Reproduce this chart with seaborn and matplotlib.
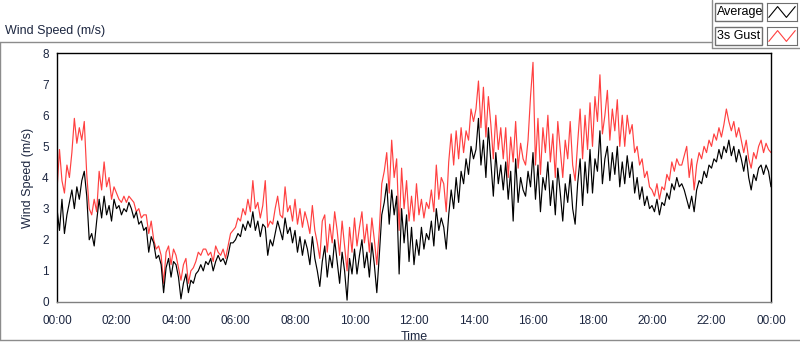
"""
Wind speed over one day: 1-min average vs 3 s gust (LabVIEW style chart)
"""

import numpy as np
import pandas as pd
import matplotlib.pyplot as plt
import seaborn as sns
from matplotlib.patches import Rectangle
from matplotlib.lines import Line2D

# 5-minute samples, one list per hour (m/s)
avg_00 = [3.0, 2.3, 3.3, 2.2, 2.8, 3.2, 3.6, 3.0, 3.7, 3.3, 3.9, 4.2]
avg_01 = [3.4, 2.0, 2.2, 1.8, 2.6, 3.3, 2.7, 3.4, 2.8, 3.1, 2.6, 3.3]
avg_02 = [3.0, 3.1, 2.8, 3.0, 2.9, 3.2, 3.0, 2.7, 2.9, 2.5, 2.6, 2.3]
avg_03 = [2.4, 1.6, 2.1, 1.9, 1.4, 1.5, 1.2, 0.3, 1.1, 1.4, 0.8, 1.3]
avg_04 = [1.2, 0.8, 0.1, 0.6, 0.9, 0.3, 0.7, 0.6, 0.9, 1.0, 1.2, 1.0]
avg_05 = [1.3, 1.2, 1.4, 1.0, 1.3, 1.5, 1.3, 1.4, 1.2, 1.5, 1.9, 1.9]
avg_06 = [2.0, 2.2, 2.1, 2.5, 2.3, 2.6, 2.4, 2.9, 2.3, 2.6, 2.1, 2.5]
avg_07 = [2.4, 1.5, 2.0, 1.8, 2.2, 2.6, 2.3, 2.0, 2.7, 2.2, 2.4, 1.9]
avg_08 = [2.3, 1.6, 2.1, 1.5, 2.0, 1.7, 1.2, 2.1, 1.4, 1.0, 0.5, 1.3]
avg_09 = [1.8, 0.8, 1.5, 1.1, 2.0, 1.3, 0.6, 1.6, 1.0, 0.06, 1.4, 0.9]
avg_10 = [1.7, 0.9, 1.5, 2.0, 1.1, 1.6, 0.8, 1.9, 1.2, 0.3, 1.5, 2.8]
avg_11 = [3.2, 3.8, 2.5, 3.6, 2.8, 3.4, 0.9, 3.0, 1.9, 2.8, 1.3, 2.4]
avg_12 = [1.2, 2.0, 1.5, 2.4, 1.7, 2.2, 2.0, 2.6, 1.8, 3.0, 2.3, 2.7]
avg_13 = [2.4, 1.7, 2.8, 3.6, 3.0, 4.0, 3.2, 4.2, 3.8, 4.6, 4.1, 5.0]
avg_14 = [4.6, 4.9, 5.9, 4.4, 5.2, 4.0, 5.6, 4.5, 3.4, 4.8, 3.8, 4.4]
avg_15 = [3.6, 4.5, 3.3, 4.2, 2.6, 4.6, 3.2, 4.0, 3.6, 3.4, 4.2, 3.7]
avg_16 = [4.8, 3.3, 4.4, 2.9, 4.0, 3.6, 4.5, 3.1, 3.9, 2.8, 4.3, 3.5]
avg_17 = [2.6, 3.8, 3.2, 4.1, 3.0, 2.5, 3.8, 4.6, 3.1, 4.5, 3.5, 4.9]
avg_18 = [3.5, 4.6, 4.2, 5.5, 3.8, 4.6, 5.0, 3.9, 4.8, 4.1, 5.0, 3.7]
avg_19 = [4.5, 3.8, 4.7, 4.0, 4.5, 3.5, 4.0, 3.3, 3.7, 3.1, 3.4, 3.0]
avg_20 = [3.1, 2.9, 3.3, 2.8, 3.2, 3.1, 3.5, 3.3, 3.8, 3.6, 4.0, 3.7]
avg_21 = [3.8, 3.6, 3.3, 3.0, 3.4, 2.9, 3.6, 3.9, 3.8, 4.2, 4.0, 4.4]
avg_22 = [4.3, 4.6, 4.5, 4.9, 4.6, 5.0, 4.8, 5.2, 4.7, 5.0, 4.5, 4.9]
avg_23 = [4.6, 4.2, 4.7, 4.0, 3.6, 4.1, 3.9, 4.3, 4.4, 4.1, 4.4, 4.2]
avg_end = [3.7]

gust_00 = [3.6, 4.9, 3.9, 3.5, 4.4, 4.0, 4.8, 5.9, 5.1, 5.6, 5.2, 5.8]
gust_01 = [4.1, 3.0, 2.8, 3.3, 2.9, 4.2, 3.6, 4.5, 3.7, 4.0, 3.3, 3.7]
gust_02 = [3.5, 3.3, 3.2, 3.4, 3.2, 3.4, 3.3, 3.2, 2.9, 3.0, 2.7, 2.8]
gust_03 = [2.8, 2.2, 2.6, 2.0, 1.7, 1.8, 1.5, 0.6, 1.6, 1.8, 1.2, 1.7]
gust_04 = [1.5, 1.1, 0.7, 1.2, 1.4, 0.6, 1.0, 1.1, 1.3, 1.6, 1.5, 1.7]
gust_05 = [1.7, 1.5, 1.6, 1.3, 1.8, 1.6, 1.5, 1.7, 1.4, 1.8, 2.2, 2.3]
gust_06 = [2.4, 2.7, 2.6, 3.0, 2.8, 3.3, 2.9, 3.9, 3.0, 3.2, 2.7, 3.1]
gust_07 = [3.9, 2.4, 2.6, 2.5, 3.0, 3.4, 2.8, 2.7, 3.7, 2.9, 3.1, 2.6]
gust_08 = [3.3, 2.5, 3.0, 2.4, 2.9, 2.6, 2.2, 3.1, 2.3, 1.9, 1.4, 2.6]
gust_09 = [2.8, 1.6, 2.5, 1.9, 2.9, 2.3, 1.5, 2.6, 1.8, 1.0, 2.4, 1.6]
gust_10 = [2.7, 1.8, 2.4, 2.9, 1.9, 2.5, 1.6, 2.7, 2.0, 1.2, 2.3, 3.8]
gust_11 = [4.2, 4.8, 3.5, 5.2, 4.0, 4.6, 2.3, 4.3, 3.0, 3.9, 2.6, 3.4]
gust_12 = [2.6, 3.8, 2.8, 3.3, 2.7, 3.2, 3.0, 3.6, 2.9, 4.4, 3.3, 4.0]
gust_13 = [3.8, 2.9, 4.5, 5.4, 4.4, 5.5, 4.6, 5.6, 4.8, 5.5, 5.2, 6.2]
gust_14 = [5.8, 6.2, 7.1, 5.6, 6.9, 5.3, 6.6, 5.7, 4.6, 6.0, 4.9, 5.6]
gust_15 = [4.6, 5.6, 4.0, 5.3, 4.5, 5.8, 4.3, 5.1, 4.6, 4.4, 5.2, 6.6]
gust_16 = [7.7, 4.4, 5.9, 4.1, 5.6, 4.8, 6.0, 4.5, 5.4, 4.0, 5.8, 4.9]
gust_17 = [4.0, 5.2, 4.6, 5.8, 4.4, 3.9, 5.1, 6.2, 4.6, 6.0, 4.9, 6.4]
gust_18 = [5.0, 6.6, 5.8, 7.3, 5.4, 6.0, 6.8, 5.2, 6.2, 5.5, 6.5, 5.0]
gust_19 = [6.0, 5.0, 6.0, 5.4, 5.7, 4.8, 5.0, 4.4, 4.6, 4.0, 4.2, 3.7]
gust_20 = [3.6, 3.4, 3.8, 3.3, 3.7, 3.6, 4.1, 3.9, 4.5, 4.2, 4.6, 4.4]
gust_21 = [4.4, 4.7, 5.0, 4.0, 4.6, 3.6, 4.4, 4.8, 4.6, 5.0, 4.8, 5.2]
gust_22 = [5.0, 5.4, 5.2, 5.6, 5.3, 5.7, 6.2, 5.8, 5.5, 5.8, 5.3, 5.6]
gust_23 = [5.2, 4.8, 5.2, 4.6, 4.3, 4.8, 4.6, 5.0, 5.2, 4.8, 5.1, 4.9]
gust_end = [4.8]

tick_hours = [0, 2, 4, 6, 8, 10, 12, 14, 16, 18, 20, 22, 24]
tick_labels = ['00:00', '02:00', '04:00', '06:00', '08:00', '10:00', '12:00',
               '14:00', '16:00', '18:00', '20:00', '22:00', '00:00']

avg = np.concatenate([avg_00, avg_01, avg_02, avg_03, avg_04, avg_05, avg_06,
                      avg_07, avg_08, avg_09, avg_10, avg_11, avg_12, avg_13,
                      avg_14, avg_15, avg_16, avg_17, avg_18, avg_19, avg_20,
                      avg_21, avg_22, avg_23, avg_end])
gust = np.concatenate([gust_00, gust_01, gust_02, gust_03, gust_04, gust_05,
                       gust_06, gust_07, gust_08, gust_09, gust_10, gust_11,
                       gust_12, gust_13, gust_14, gust_15, gust_16, gust_17,
                       gust_18, gust_19, gust_20, gust_21, gust_22, gust_23,
                       gust_end])

df = pd.DataFrame({'hours': np.arange(len(avg)) * 5 / 60.0,
                   'Average': avg, '3s Gust': gust})

sns.set_style('white')
plt.rcParams['font.family'] = ['Liberation Sans', 'DejaVu Sans']

W, H = 800, 342
fig = plt.figure(figsize=(W / 100, H / 100), dpi=100)
ax = fig.add_axes([57 / W, 1 - 302 / H, (771 - 57) / W, (302 - 53) / H])

sns.lineplot(data=df, x='hours', y='3s Gust', color='#ff4040', lw=0.85, ax=ax)
sns.lineplot(data=df, x='hours', y='Average', color='black', lw=0.85, ax=ax)

navy = '#1c2640'
ax.set_xlim(0, 24)
ax.set_ylim(0, 8)
ax.set_xticks(tick_hours)
ax.set_xticklabels(tick_labels)
ax.set_xticks(np.arange(0, 24.01, 0.25), minor=True)
ax.set_yticks(range(0, 9))
ax.tick_params(axis='both', which='major', direction='out', length=4,
               width=0.8, labelsize=8.5, colors='black', labelcolor=navy, pad=2)
ax.tick_params(axis='x', which='minor', direction='out', length=2,
               width=0.8, colors='black')
ax.tick_params(axis='x', which='major', pad=5)
ax.set_xlabel('Time', fontsize=9, color=navy, labelpad=3)
ax.set_ylabel('Wind Speed (m/s)', fontsize=9, color=navy, labelpad=6)

for side in ['top', 'right', 'left']:
    ax.spines[side].set_color('black')
    ax.spines[side].set_linewidth(1)
ax.spines['bottom'].set_color('#808080')
ax.spines['bottom'].set_linewidth(1)


def fx(x):
    return x / W


def fy(y):
    return 1 - y / H


# panel frame
grey = '#8c8c8c'
for xs, ys in [([0, 712], [42, 42]), ([0, 0], [42, 340]), ([0, 800], [340, 340]),
               ([712, 712], [0, 48]), ([712, 800], [48, 48])]:
    fig.add_artist(Line2D([fx(v) for v in xs], [fy(v) for v in ys],
                          transform=fig.transFigure, color=grey, lw=1))

fig.text(fx(5), fy(31), 'Wind Speed (m/s)', fontsize=9, color=navy,
         va='center', ha='left')

# legend in LabVIEW style
for label, col, top in [('Average', 'black', 3), ('3s Gust', '#ff4040', 27)]:
    fig.add_artist(Rectangle((fx(715), fy(top + 18)), fx(47), 18 / H,
                             transform=fig.transFigure, fill=False,
                             edgecolor='#707070', lw=1))
    fig.text(fx(717), fy(top + 9), label, fontsize=9, color='black',
             va='center', ha='left')
    sub = fig.add_axes([fx(767), fy(top + 18), fx(30), 18 / H])
    sub.plot([0, 1, 2, 3], [0.2, 0.8, 0.2, 0.8], color=col, lw=0.8)
    sub.set_xlim(-0.2, 3.2)
    sub.set_ylim(0, 1)
    sub.set_xticks([])
    sub.set_yticks([])
    for s in sub.spines.values():
        s.set_color('#707070')

fig.savefig('out.png', dpi=100)
